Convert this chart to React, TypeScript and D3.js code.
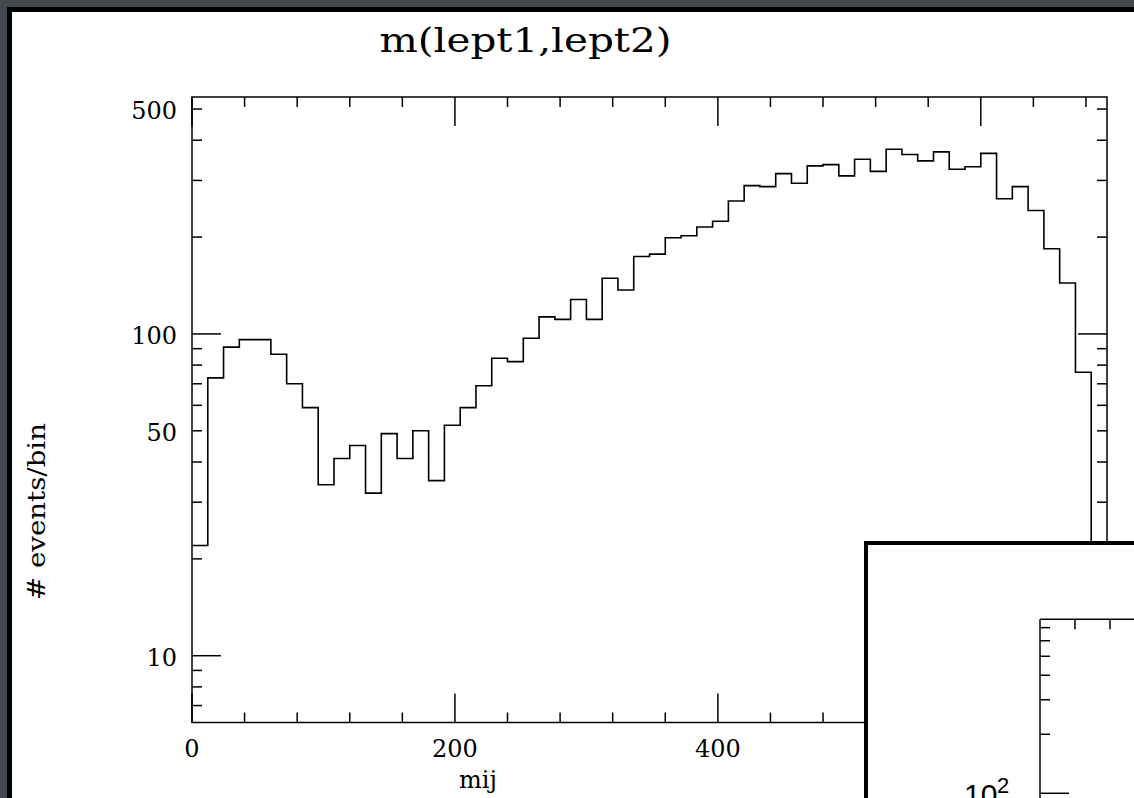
import React from 'react';
import * as d3 from 'd3';

// histogram: 58 bins of width 12 starting at 0 (m(lept1,lept2))
const binWidth = 12;
const counts = [
  22, 73, 91, 96, 96, 86.5, 70, 59, 34, 41,
  45, 32, 49, 41, 50, 35, 52, 59, 69, 84,
  82, 97, 113, 111, 128, 111, 149, 137, 174, 177,
  199, 202, 215, 224, 259, 289, 287, 315, 294, 333,
  336, 310, 349, 320, 375, 361, 345, 368, 325, 331,
  364, 263, 287, 242, 184, 144, 76, 12,
];
const xTickLabels = [0, 200, 400, 600];
const xMajorTicks = [0, 200, 400, 600];
const yTickLabels = [10, 50, 100, 500];
const yMajorTicks = [10, 100];
const yMinorTicks = [7, 8, 9, 20, 30, 40, 50, 60, 70, 80, 90, 200, 300, 400, 500];
const insetYMajor = [100];
const insetYMinor = [200, 300, 400, 500, 600, 700];
const insetXMinor = [20, 40, 60, 80];

const titleText = 'm(lept1,lept2)';
const xLabel = 'mij';
const yLabel = '# events/bin';

export default function App() {
  const W = 1134, H = 798;
  const left = 192, right = 1107, top = 97, bottom = 722.5;
  const xMax = counts.length * binWidth;
  const x = d3.scaleLinear().domain([0, xMax]).range([left, right]);
  const y = d3.scaleLog().domain([6.2, 545]).range([bottom, top]);

  const pts: [number, number][] = counts.map((c, i) => [x(i * binWidth), y(c)] as [number, number]);
  pts.push([x(xMax), y(counts[counts.length - 1])]);
  const histPath = d3.line().curve(d3.curveStepAfter)(pts) || '';

  const xMinor = d3.range(0, xMax + 1, 40).filter(v => !xMajorTicks.includes(v));
  const MAJ = 29, MIN = 10;
  const serif = '"DejaVu Serif", serif';

  // inset scales
  const iy = d3.scaleLog().domain([10, 772]).range([989.3, 619.3]);
  const ix = d3.scaleLinear().domain([0, 100]).range([1040, 1215]);
  const iLeft = ix(0), iTop = iy(772);

  return (
    <svg width={W} height={H} style={{ position: 'absolute', left: 0, top: 0, display: 'block' }}>
      <rect x={0} y={0} width={W} height={H} fill="#44484f" />
      <rect x={9.5} y={9.5} width={W + 20} height={H + 20} fill="#ffffff" stroke="#000" strokeWidth={5} />

      <text x={525.5} y={52} fontFamily={serif} fontSize={34} textAnchor="middle"
        textLength={292} lengthAdjust="spacingAndGlyphs" fill="#000">{titleText}</text>

      {/* frame */}
      <rect x={left} y={top} width={right - left} height={bottom - top} fill="none" stroke="#000" strokeWidth={1.5} />

      {/* x ticks bottom and top */}
      {xMajorTicks.map(v => (
        <g key={'xM' + v}>
          <line x1={x(v)} x2={x(v)} y1={bottom} y2={bottom - MAJ} stroke="#000" strokeWidth={1.5} />
          <line x1={x(v)} x2={x(v)} y1={top} y2={top + MAJ} stroke="#000" strokeWidth={1.5} />
        </g>
      ))}
      {xMinor.map(v => (
        <g key={'xm' + v}>
          <line x1={x(v)} x2={x(v)} y1={bottom} y2={bottom - MIN} stroke="#000" strokeWidth={1.5} />
          <line x1={x(v)} x2={x(v)} y1={top} y2={top + MIN} stroke="#000" strokeWidth={1.5} />
        </g>
      ))}
      {xTickLabels.map(v => (
        <text key={'xl' + v} x={x(v)} y={757} fontFamily={serif} fontSize={24} textAnchor="middle" fill="#000">{v}</text>
      ))}

      {/* y ticks left and right */}
      {yMajorTicks.map(v => (
        <g key={'yM' + v}>
          <line x1={left} x2={left + MAJ} y1={y(v)} y2={y(v)} stroke="#000" strokeWidth={1.5} />
          <line x1={right} x2={right - MAJ} y1={y(v)} y2={y(v)} stroke="#000" strokeWidth={1.5} />
        </g>
      ))}
      {yMinorTicks.map(v => (
        <g key={'ym' + v}>
          <line x1={left} x2={left + MIN} y1={y(v)} y2={y(v)} stroke="#000" strokeWidth={1.5} />
          <line x1={right} x2={right - MIN} y1={y(v)} y2={y(v)} stroke="#000" strokeWidth={1.5} />
        </g>
      ))}
      {yTickLabels.map(v => (
        <text key={'yl' + v} x={177} y={y(v) + 10} fontFamily={serif} fontSize={24} textAnchor="end" fill="#000">{v}</text>
      ))}

      {/* histogram */}
      <path d={histPath} fill="none" stroke="#000" strokeWidth={1.6} />

      <text x={478} y={788} fontFamily={serif} fontSize={24} textAnchor="middle" fill="#000">{xLabel}</text>
      <text transform={`translate(45,511.5) rotate(-90)`} fontFamily={serif} fontSize={25} textAnchor="middle"
        textLength={177} lengthAdjust="spacingAndGlyphs" fill="#000">{yLabel}</text>

      {/* inset panel */}
      <rect x={866} y={543} width={400} height={400} fill="#ffffff" stroke="#000" strokeWidth={4} />
      <line x1={iLeft} x2={iLeft} y1={iTop} y2={H + 10} stroke="#000" strokeWidth={1.5} />
      <line x1={iLeft} x2={W + 10} y1={iTop} y2={iTop} stroke="#000" strokeWidth={1.5} />
      {insetYMajor.map(v => (
        <line key={'iyM' + v} x1={iLeft} x2={iLeft + MAJ} y1={iy(v)} y2={iy(v)} stroke="#000" strokeWidth={1.5} />
      ))}
      {insetYMinor.map(v => (
        <line key={'iym' + v} x1={iLeft} x2={iLeft + MIN} y1={iy(v)} y2={iy(v)} stroke="#000" strokeWidth={1.5} />
      ))}
      {insetXMinor.map(v => (
        <line key={'ixm' + v} x1={ix(v)} x2={ix(v)} y1={iTop} y2={iTop + MIN} stroke="#000" strokeWidth={1.5} />
      ))}
      <text x={964} y={805} fontFamily='"Liberation Sans", Arial, sans-serif' fontSize={30} fill="#000">10</text>
      <text x={997} y={793} fontFamily='"Liberation Sans", Arial, sans-serif' fontSize={22} fill="#000">2</text>
    </svg>
  );
}
